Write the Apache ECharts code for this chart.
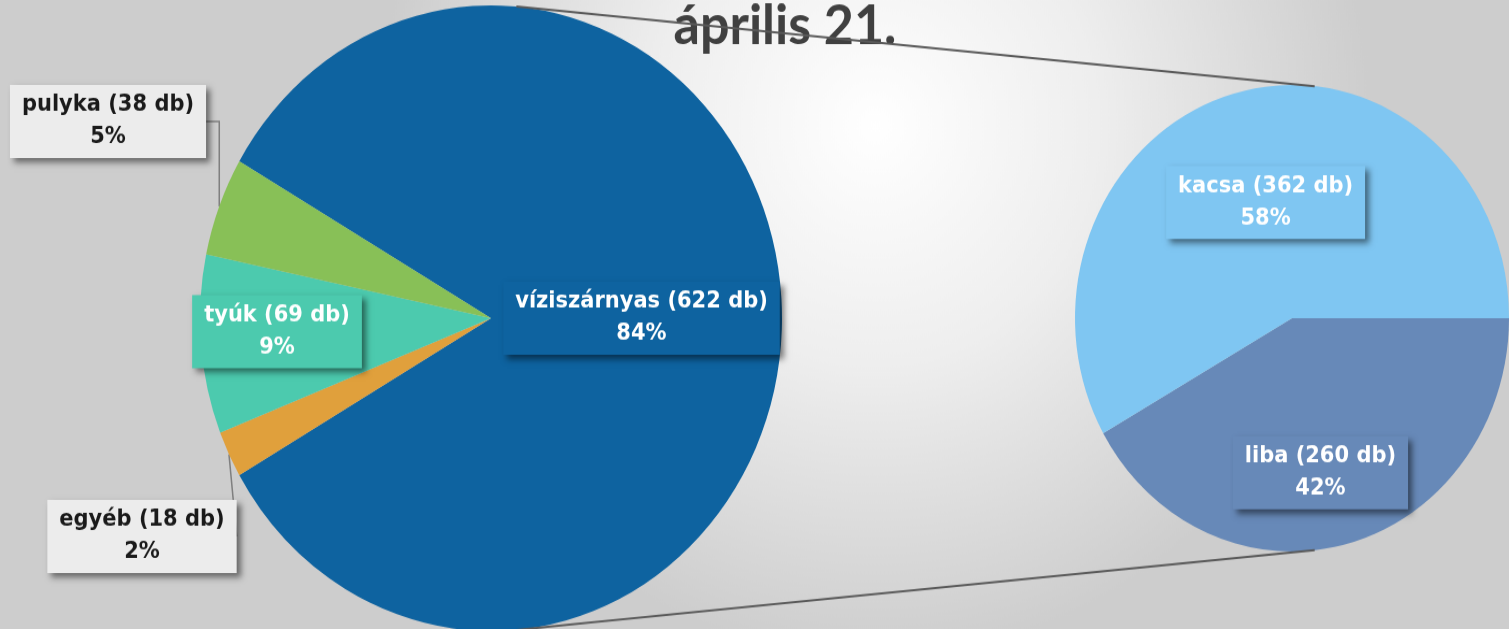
<!DOCTYPE html>
<html>
<head>
<meta charset="utf-8">
<script src="https://cdn.jsdelivr.net/npm/echarts@6/dist/echarts.min.js"></script>
<style>
html, body { margin: 0; padding: 0; overflow: hidden; width: 1509px; height: 629px; background: #d8d8d8; }
/* az eredeti kép kissé függőlegesen nyújtott, ezért a vásznat is nyújtjuk */
#chart { width: 1509px; height: 585px; transform: scaleY(1.075); transform-origin: 0 0; }
</style>
</head>
<body>
<div id="chart"></div>
<script>
/** adatok */
var titleText = 'április 21.';
var mainNames = ['víziszárnyas', 'egyéb', 'tyúk', 'pulyka'];
var mainValues = [622, 18, 69, 38];
var mainPercents = [84, 2, 9, 5];
var mainColors = ['#0e63a0', '#e0a03c', '#4ccaae', '#88c057'];
var subNames = ['liba', 'kacsa'];
var subValues = [260, 362];
var subPercents = [42, 58];
var subColors = ['#6789b8', '#7fc6f2'];

/** elrendezés */
var mainCenter = [491, 296], mainRadius = 291;
var subCenter = [1292, 296], subRadius = 217;
var mainLabelLayout = [{dx: 2}, {x: 142, y: 499, align: 'center', verticalAlign: 'middle'}, {dx: -66}, {x: 108, y: 113, align: 'center', verticalAlign: 'middle'}];
var subLabelLayout = [{dy: 36}, {dx: 2}];

var total = mainValues.reduce(function (a, b) { return a + b; }, 0);
var mainStart = mainValues[0] / total * 360 / 2;

function labelText(name, value, pct) {
    return name + ' (' + value + ' db)\n' + pct + '%';
}

var labelBase = {
    show: true,
    position: 'inside',
    color: '#fff',
    fontFamily: 'DejaVu Sans',
    fontWeight: 'bold',
    fontSize: 21,
    lineHeight: 30,
    padding: [4, 12],
    align: 'center',
    shadowColor: 'rgba(0,0,0,0.5)',
    shadowBlur: 6,
    shadowOffsetX: 4,
    shadowOffsetY: 4
};

var mainData = [];
for (var i = 0; i < mainNames.length; i++) {
    var outside = mainPercents[i] < 6 && mainNames[i] !== 'tyúk';
    mainData.push({
        name: mainNames[i],
        value: mainValues[i],
        itemStyle: {color: mainColors[i]},
        label: Object.assign({}, labelBase, {
            formatter: labelText(mainNames[i], mainValues[i], mainPercents[i]),
            position: outside ? 'outside' : 'inside',
            color: outside ? '#1a1a1a' : '#fff',
            backgroundColor: outside ? '#ececec' : mainColors[i]
        }),
        labelLine: {show: outside}
    });
}
var subData = [];
for (var j = 0; j < subNames.length; j++) {
    subData.push({
        name: subNames[j],
        value: subValues[j],
        itemStyle: {color: subColors[j]},
        label: Object.assign({}, labelBase, {
            formatter: labelText(subNames[j], subValues[j], subPercents[j]),
            backgroundColor: subColors[j]
        })
    });
}

// összekötő vonalak a két kör között
function pt(c, r, deg) {
    var a = deg * Math.PI / 180;
    return [c[0] + r * Math.cos(a), c[1] - r * Math.sin(a)];
}
var lineStyle = {stroke: '#595959', lineWidth: 2};
var topA = pt(mainCenter, mainRadius, 85), topB = pt(subCenter, subRadius, 84);
var botA = pt(mainCenter, mainRadius, -85), botB = pt(subCenter, subRadius, -84);

var chart = echarts.init(document.getElementById('chart'));
chart.setOption({
    animation: false,
    backgroundColor: {
        type: 'radial', x: 0.58, y: 0.2, r: 0.85,
        colorStops: [{offset: 0, color: '#ffffff'}, {offset: 0.45, color: '#eeeeee'}, {offset: 1, color: '#cdcdcd'}]
    },
    graphic: [
        {type: 'text', x: 785, y: 24, z: 5, style: {text: titleText, fill: '#404040', font: 'bold 52px Lato', align: 'center', verticalAlign: 'middle'}},
        {type: 'line', z: 10, shape: {x1: topA[0], y1: topA[1], x2: topB[0], y2: topB[1]}, style: lineStyle},
        {type: 'line', z: 10, shape: {x1: botA[0], y1: botA[1], x2: botB[0], y2: botB[1]}, style: lineStyle}
    ],
    series: [
        {
            type: 'pie',
            center: mainCenter,
            radius: mainRadius,
            startAngle: mainStart,
            avoidLabelOverlap: false,
            emphasis: {disabled: true},
            labelLine: {lineStyle: {color: '#7f7f7f', width: 1.5}, length: 40, length2: 20},
            labelLayout: function (p) { return mainLabelLayout[p.dataIndex]; },
            data: mainData
        },
        {
            type: 'pie',
            center: subCenter,
            radius: subRadius,
            startAngle: 0,
            avoidLabelOverlap: false,
            emphasis: {disabled: true},
            labelLayout: function (p) { return subLabelLayout[p.dataIndex]; },
            data: subData
        }
    ]
});
</script>
</body>
</html>
